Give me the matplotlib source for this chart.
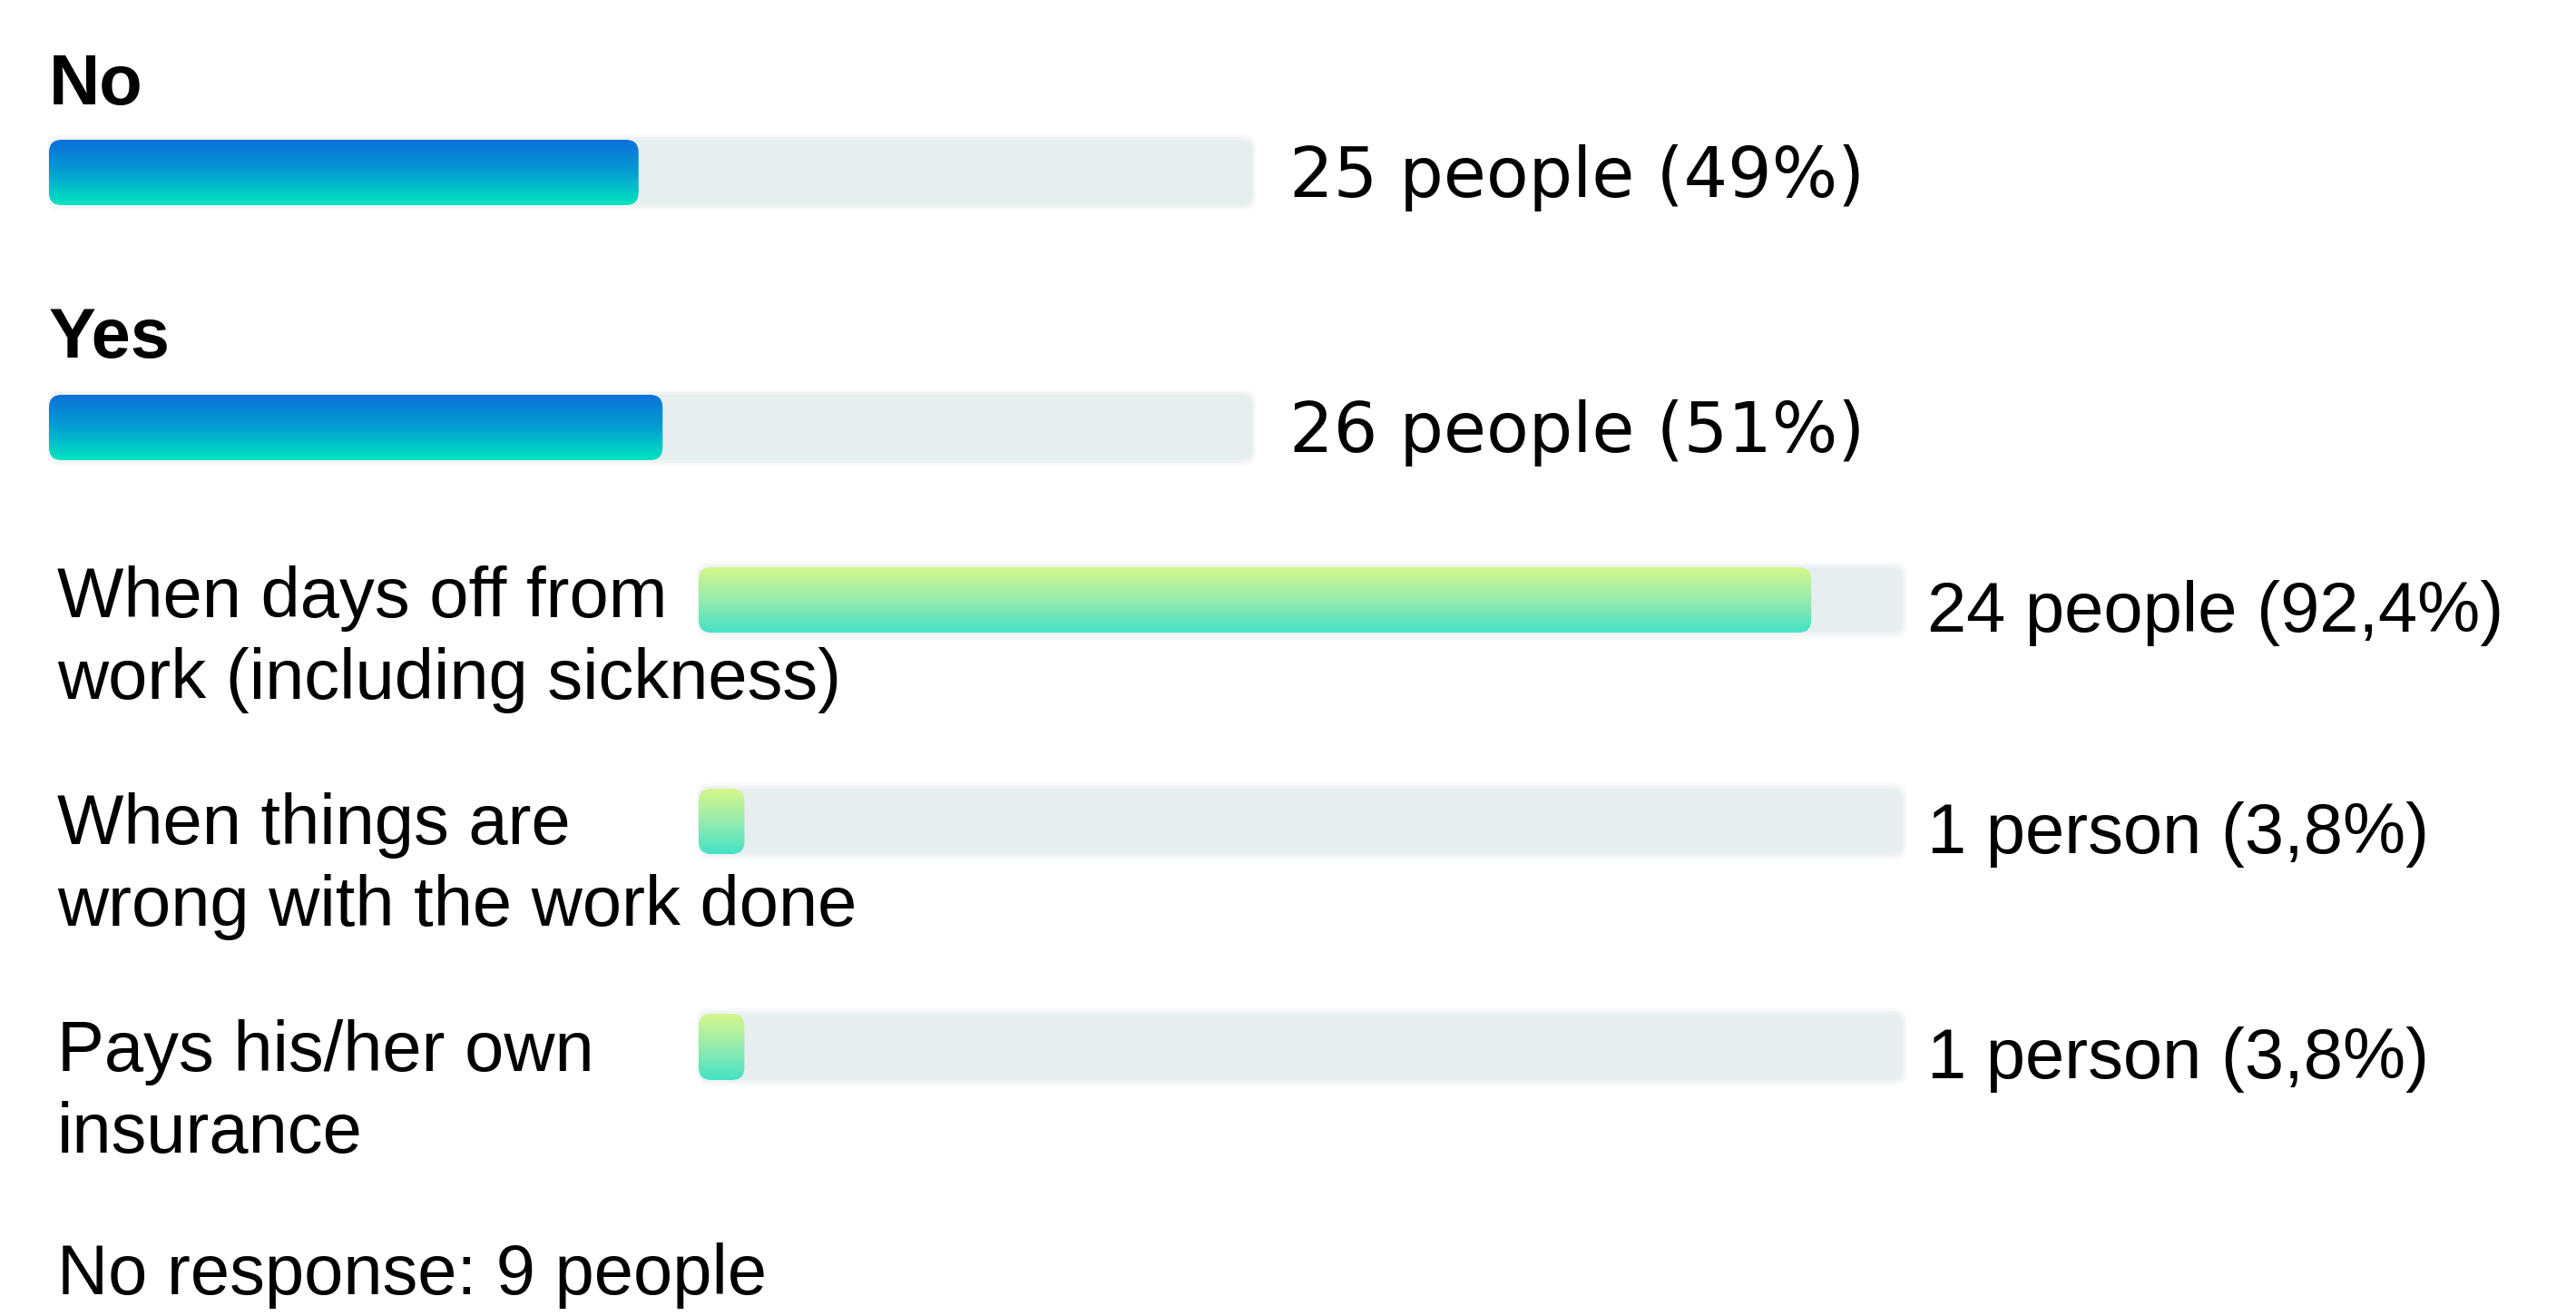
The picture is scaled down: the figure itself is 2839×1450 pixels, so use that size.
import numpy as np
import matplotlib
matplotlib.use("Agg")
import matplotlib.pyplot as plt
from matplotlib.patches import FancyBboxPatch
from matplotlib.colors import LinearSegmentedColormap

# ---- data -------------------------------------------------------------
main_labels = ["No", "Yes"]
main_counts = [25, 26]
main_pcts = [49, 51]

sub_labels = [
    "When days off from\nwork (including sickness)",
    "When things are\nwrong with the work done",
    "Pays his/her own\ninsurance",
]
sub_counts = [24, 1, 1]
sub_pcts = [92.4, 3.8, 3.8]

no_response = 9

# ---- figure -----------------------------------------------------------
W, H, DPI = 2839, 1450, 100
fig = plt.figure(figsize=(W / DPI, H / DPI), dpi=DPI)
fig.patch.set_facecolor("white")

LABEL_FONT = ["Liberation Sans", "DejaVu Sans"]
VALUE_FONT_MAIN = ["DejaVu Sans"]
FS = 56

main_cmap = LinearSegmentedColormap.from_list(
    "main", ["#0a6fd9", "#049fd2", "#00e4bf"])
sub_cmap = LinearSegmentedColormap.from_list(
    "sub", ["#d6f78a", "#95ebae", "#44e2c6"])


def fx(px):
    return px / W


def fy(py):
    return 1 - py / H


def value_text(count, pct):
    noun = "person" if count == 1 else "people"
    return f"{count} {noun} ({pct:g}%)".replace(".", ",")


def draw_bar(x0, x1, ytop, ybot, pct, cmap):
    w_px, h_px = x1 - x0, ybot - ytop
    ax = fig.add_axes([fx(x0), fy(ybot), (x1 - x0) / W, h_px / H])
    ax.set_xlim(0, 100)
    ax.set_ylim(0, 1)
    ax.axis("off")
    r_px = 14
    r = r_px * 100 / w_px
    asp = w_px / (100 * h_px)

    # soft halo and track
    for grow, alpha in [(6, 0.25), (3, 0.45)]:
        gx = grow * 100 / w_px
        gy = grow / h_px
        halo = FancyBboxPatch((-gx * 0.3, -gy), 100 + gx, 1 + 2 * gy,
                              boxstyle=f"round,pad=0,rounding_size={r}",
                              mutation_aspect=asp, fc="#e6ecee", ec="none",
                              alpha=alpha, clip_on=False)
        ax.add_patch(halo)
    track = FancyBboxPatch((0, 0), 100, 1,
                           boxstyle=f"round,pad=0,rounding_size={r}",
                           mutation_aspect=asp, fc="#e7eef0", ec="none",
                           clip_on=False)
    ax.add_patch(track)

    # gradient fill clipped to a rounded bar of length pct (top colour first)
    fill = FancyBboxPatch((0, 0), pct, 1,
                          boxstyle=f"round,pad=0,rounding_size={min(r, pct / 2)}",
                          mutation_aspect=asp, fc="none", ec="none",
                          clip_on=False)
    ax.add_patch(fill)
    grad = np.linspace(0, 1, 256).reshape(-1, 1)
    im = ax.imshow(grad, cmap=cmap, extent=(0, pct, 0, 1), origin="upper",
                   aspect="auto", interpolation="bilinear", zorder=3)
    im.set_clip_path(fill)
    ax.set_xlim(0, 100)
    ax.set_ylim(0, 1)
    return ax


# ---- top-level answers --------------------------------------------------
main_rows = [(154, 226, 115), (435, 507, 394)]
for (yt, yb, lbl_base), lab, n, p in zip(main_rows, main_labels,
                                         main_counts, main_pcts):
    fig.text(fx(54), fy(lbl_base), lab, family=LABEL_FONT, fontsize=FS,
             fontweight="bold", va="baseline", ha="left")
    ax = draw_bar(54, 1380, yt, yb, p, main_cmap)
    ax.annotate(value_text(n, p), xy=(100, 0.5), xytext=(41, -27),
                textcoords="offset pixels", family=VALUE_FONT_MAIN,
                fontsize=55, va="baseline", ha="left")

# ---- breakdown of "Yes" ------------------------------------------------
sub_rows = [(625, 697, 680), (869, 941, 930), (1117, 1190, 1180)]
for (yt, yb, lbl_base), lab, n, p in zip(sub_rows, sub_labels,
                                         sub_counts, sub_pcts):
    lines = lab.split("\n")
    for k, line in enumerate(lines):
        fig.text(fx(63), fy(lbl_base + 90 * k), line, family=LABEL_FONT,
                 fontsize=FS, va="baseline", ha="left")
    ax = draw_bar(770, 2097, yt, yb, p, sub_cmap)
    ax.annotate(value_text(n, p), xy=(100, 0.5), xytext=(27, -35),
                textcoords="offset pixels", family=LABEL_FONT,
                fontsize=FS, va="baseline", ha="left")

fig.text(fx(63), fy(1426), f"No response: {no_response} people",
         family=LABEL_FONT, fontsize=FS, va="baseline", ha="left")

fig.savefig("out.png", dpi=DPI, facecolor="white")
